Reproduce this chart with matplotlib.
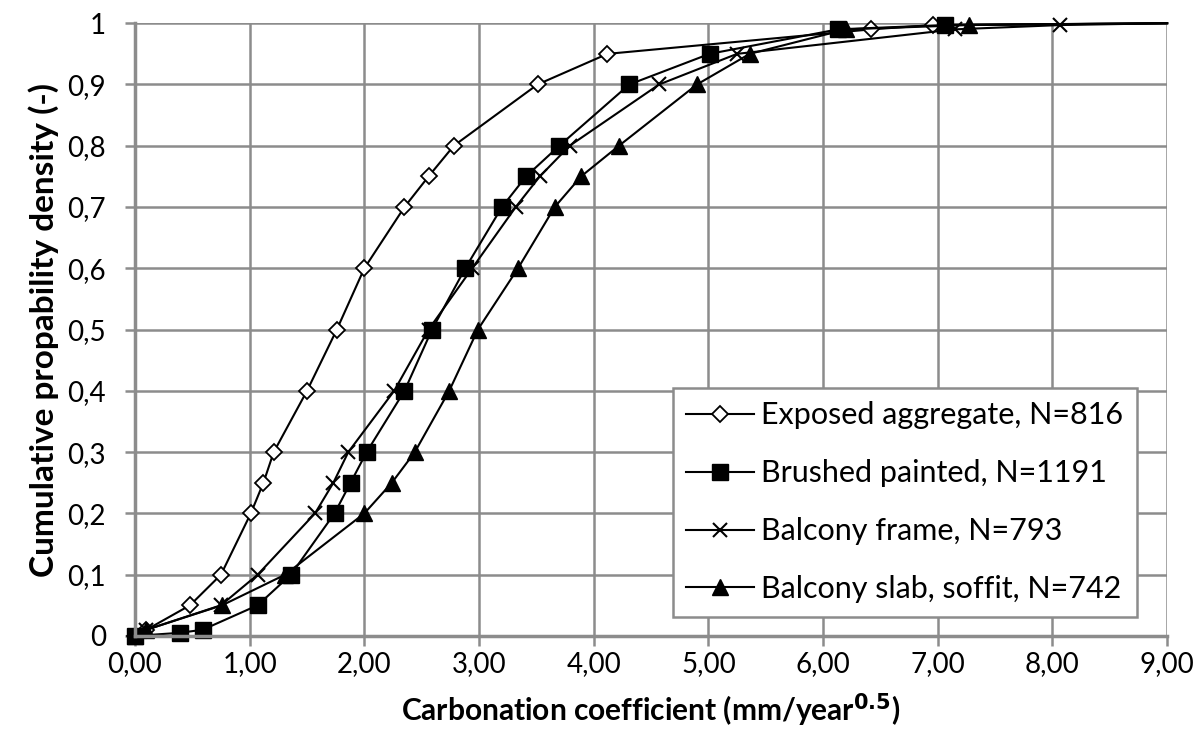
import numpy as np
import matplotlib
matplotlib.use('Agg')
import matplotlib.pyplot as plt
from matplotlib.ticker import FuncFormatter

plt.rcParams['font.family'] = ['Lato', 'DejaVu Sans']

# cumulative probability levels and carbonation coefficients per series
exposed_x = [0.0, 0.1, 0.48, 0.75, 1.01, 1.12, 1.21, 1.50, 1.76, 2.00, 2.35, 2.56, 2.78, 3.51, 4.12, 6.42, 6.96, 9.0]
exposed_y = [0.0, 0.01, 0.05, 0.10, 0.20, 0.25, 0.30, 0.40, 0.50, 0.60, 0.70, 0.75, 0.80, 0.90, 0.95, 0.99, 0.997, 1.0]

brushed_x = [0.0, 0.39, 0.59, 1.07, 1.36, 1.74, 1.88, 2.02, 2.35, 2.59, 2.88, 3.20, 3.41, 3.70, 4.31, 5.01, 6.13, 7.06, 9.0]
brushed_y = [0.0, 0.005, 0.01, 0.05, 0.10, 0.20, 0.25, 0.30, 0.40, 0.50, 0.60, 0.70, 0.75, 0.80, 0.90, 0.95, 0.99, 0.997, 1.0]

frame_x = [0.0, 0.1, 0.75, 1.07, 1.57, 1.73, 1.86, 2.26, 2.56, 2.94, 3.32, 3.53, 3.79, 4.57, 5.25, 7.15, 8.07, 9.0]
frame_y = [0.0, 0.01, 0.05, 0.10, 0.20, 0.25, 0.30, 0.40, 0.50, 0.60, 0.70, 0.75, 0.80, 0.90, 0.95, 0.99, 0.997, 1.0]

slab_x = [0.0, 0.1, 0.76, 1.31, 2.00, 2.24, 2.44, 2.74, 2.99, 3.34, 3.66, 3.89, 4.22, 4.90, 5.36, 6.20, 7.27, 9.0]
slab_y = [0.0, 0.01, 0.05, 0.10, 0.20, 0.25, 0.30, 0.40, 0.50, 0.60, 0.70, 0.75, 0.80, 0.90, 0.95, 0.99, 0.997, 1.0]

labels = ['Exposed aggregate, N=816', 'Brushed painted, N=1191',
          'Balcony frame, N=793', 'Balcony slab, soffit, N=742']

fig = plt.figure(figsize=(12.03, 7.49), dpi=100)
ax = fig.add_axes([0.1122, 0.151, 0.858, 0.818])

grey = '#8c8c8c'
ax.plot(exposed_x, exposed_y, 'k-', lw=1.5, marker='D', ms=8.5, mfc='white', mec='k',
        mew=1.3, markevery=list(range(len(exposed_x) - 1)), label=labels[0], clip_on=False)
ax.plot(brushed_x, brushed_y, 'k-', lw=1.5, marker='s', ms=11.5, mfc='k', mec='k',
        markevery=list(range(len(brushed_x) - 1)), label=labels[1], clip_on=False)
ax.plot(frame_x, frame_y, 'k-', lw=1.5, marker='x', ms=10, mew=1.5,
        markevery=list(range(len(frame_x) - 1)), label=labels[2], clip_on=False)
ax.plot(slab_x, slab_y, 'k-', lw=1.5, marker='^', ms=11, mfc='k', mec='k',
        markevery=list(range(len(slab_x) - 1)), label=labels[3], clip_on=False)

ax.set_xlim(0, 9)
ax.set_ylim(0, 1)
ax.set_xticks(np.arange(0, 10, 1))
ax.set_yticks(np.arange(0, 1.01, 0.1))
ax.xaxis.set_major_formatter(FuncFormatter(lambda v, p: ('%.2f' % v).replace('.', ',')))
ax.yaxis.set_major_formatter(FuncFormatter(
    lambda v, p: '%d' % round(v) if abs(v - round(v)) < 1e-6 else ('%.1f' % v).replace('.', ',')))

ax.grid(True, color=grey, lw=1.8)
ax.set_axisbelow(True)
for s in ['top', 'right']:
    ax.spines[s].set_visible(False)
for s in ['left', 'bottom']:
    ax.spines[s].set_color(grey)
    ax.spines[s].set_linewidth(2.5)
ax.tick_params(axis='both', colors=grey, width=1.8, length=7, labelsize=20,
               labelcolor='black', direction='out')
ax.tick_params(axis='x', pad=4)
ax.tick_params(axis='y', pad=14)

ax.set_xlabel('Carbonation coefficient (mm/year$^{\\mathbf{0.5}}$)', fontsize=21.5,
              fontweight='bold', labelpad=10)
ax.set_ylabel('Cumulative propability density (-)', fontsize=24, fontweight='bold',
              labelpad=6)

leg = ax.legend(loc='lower right', bbox_to_anchor=(0.971, 0.031), fontsize=22,
                frameon=True, fancybox=False, edgecolor=grey, framealpha=1,
                labelspacing=0.98, handlelength=2.2, handletextpad=0.25,
                borderpad=0.45, borderaxespad=0)
leg.get_frame().set_linewidth(1.8)

fig.savefig('out.png', dpi=100)
